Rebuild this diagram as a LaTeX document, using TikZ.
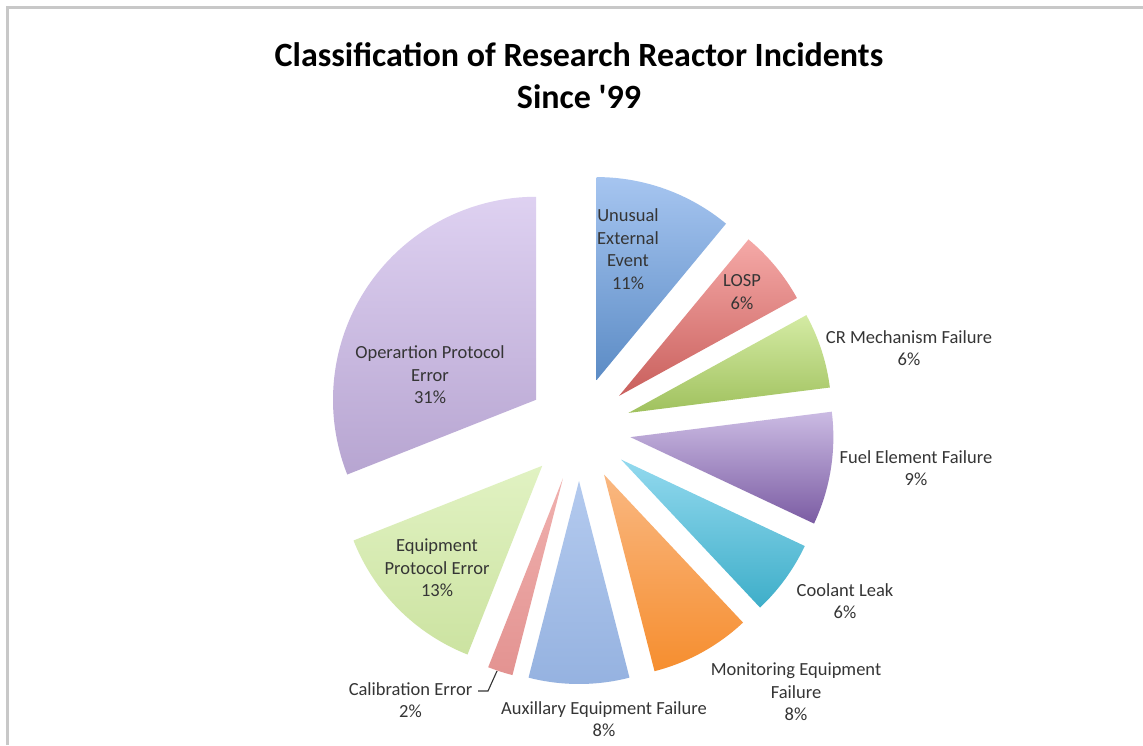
\documentclass[tikz,border=0pt]{standalone}
\usepackage{fontspec}
\setmainfont{Carlito}
\newfontfamily\plaincarlito{Carlito}
\definecolor{framegray}{HTML}{C8C8C8}
\definecolor{labelgray}{HTML}{353535}
\definecolor{unT}{HTML}{A6C5F0}\definecolor{unB}{HTML}{4A7EBB}
\definecolor{loT}{HTML}{F5A9A7}\definecolor{loB}{HTML}{C0504D}
\definecolor{crT}{HTML}{D4EBA4}\definecolor{crB}{HTML}{97BA52}
\definecolor{fuT}{HTML}{CBBBE3}\definecolor{fuB}{HTML}{7B5CA3}
\definecolor{coT}{HTML}{A4E2F6}\definecolor{coB}{HTML}{3EAEC9}
\definecolor{moT}{HTML}{FAC194}\definecolor{moB}{HTML}{F68E2F}
\definecolor{auT}{HTML}{BBD0F2}\definecolor{auB}{HTML}{95B2E0}
\definecolor{caT}{HTML}{F3B8B6}\definecolor{caB}{HTML}{E39391}
\definecolor{eqT}{HTML}{E5F5C9}\definecolor{eqB}{HTML}{CCE3A1}
\definecolor{opT}{HTML}{DED1F1}\definecolor{opB}{HTML}{B7A5D1}
\begin{document}
\begin{tikzpicture}[x=1pt,y=-1pt,
  lbl/.style={align=center, font=\fontsize{18.5}{22.5}\selectfont, text=labelgray, inner sep=0pt},
  ttl/.style={font=\plaincarlito\fontsize{34}{42}\selectfont\bfseries, text=black, inner sep=0pt, anchor=base}]
\useasboundingbox (0,0) rectangle (1143,745);
\fill[white] (0,0) rectangle (1143,745);
\draw[framegray, line width=2.5pt] (7.5,745) -- (7.5,7.5) -- (1143,7.5);

\node[ttl] (title1) at (579,66) {Classification of Research Reactor Incidents};
\node[ttl] (title2) at (579,108) {Since '99};

\coordinate (C) at (579,429);
\foreach \n/\a/\b/\tc/\bc in {
  sUn/90/50.4/unT/unB,
  sLo/50.4/28.8/loT/loB,
  sCr/28.8/7.2/crT/crB,
  sFu/7.2/-25.2/fuT/fuB,
  sCo/-25.2/-46.8/coT/coB,
  sMo/-46.8/-75.6/moT/moB,
  sAu/-75.6/-104.4/auT/auB,
  sCa/-104.4/-111.6/caT/caB,
  sEq/-111.6/-158.4/eqT/eqB,
  sOp/-158.4/-270/opT/opB}{
  \pgfmathsetmacro\mm{-(\a+\b)/2}
  \pgfmathsetmacro\sa{-\a}
  \pgfmathsetmacro\ea{-\b}
  \shade[top color=\tc, bottom color=\bc]
    (C) ++(\mm:52) coordinate (\n) -- ++(\sa:203)
    arc[start angle=\sa, end angle=\ea, radius=203] -- cycle;
}

\node[lbl] (lUn) at (628,249) {Unusual\\External\\Event\\11\%};
\node[lbl] (lLo) at (742,292) {LOSP\\6\%};
\node[lbl] (lCr) at (909,348) {CR Mechanism Failure\\6\%};
\node[lbl] (lFu) at (916,468) {Fuel Element Failure\\9\%};
\node[lbl] (lCo) at (845,601) {Coolant Leak\\6\%};
\node[lbl] (lMo) at (796,692) {Monitoring Equipment\\Failure\\8\%};
\node[lbl] (lAu) at (604,719) {Auxillary Equipment Failure\\8\%};
\node[lbl] (lCa) at (410.5,700) {Calibration Error\\2\%};
\node[lbl] (lEq) at (437,568) {Equipment\\Protocol Error\\13\%};
\node[lbl] (lOp) at (430,375) {Operartion Protocol\\Error\\31\%};

\coordinate (calEnd) at (478,691);
\coordinate (calTip) at (497,671);
\draw[labelgray, line width=1.1pt] (calEnd) -- ++(10,0) -- (calTip);
\end{tikzpicture}
\end{document}
